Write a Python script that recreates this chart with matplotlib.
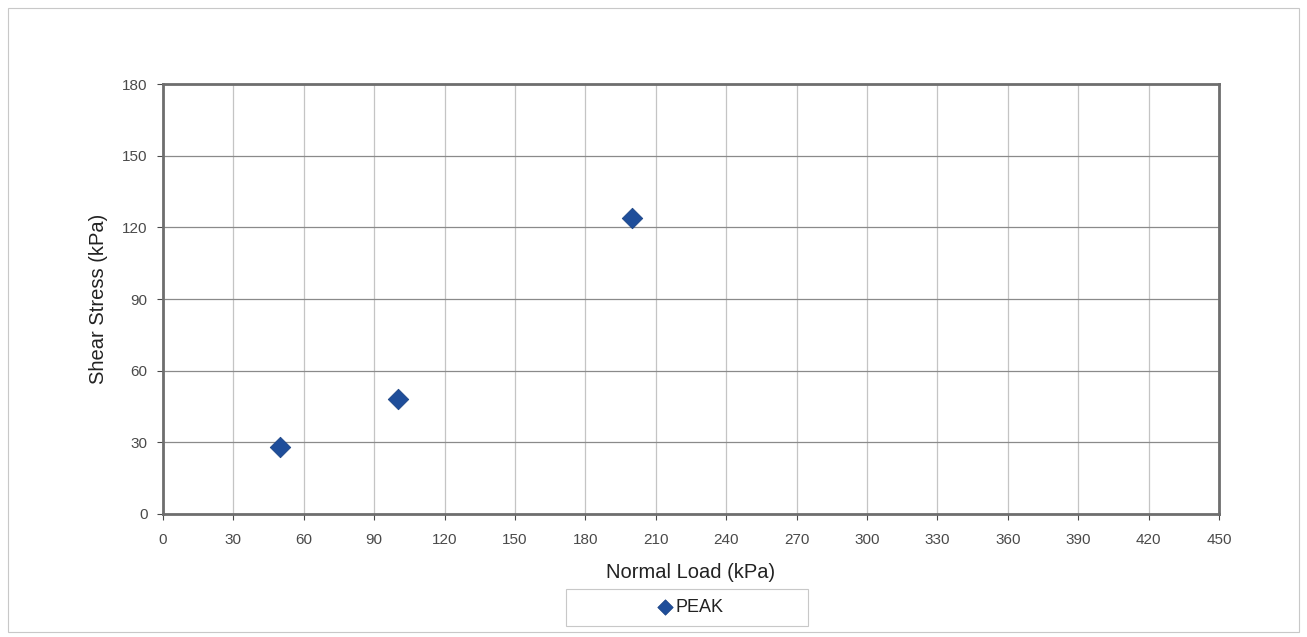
import matplotlib
matplotlib.use("Agg")
import matplotlib.pyplot as plt
from matplotlib.patches import Rectangle

plt.rcParams['font.family'] = ['Liberation Sans', 'DejaVu Sans']

# peak shear test results
normal_load = [50, 100, 200]
shear_stress = [28, 48, 124]

x_ticks = list(range(0, 451, 30))
y_ticks = list(range(0, 181, 30))

W, H = 1307, 637
fig = plt.figure(figsize=(W / 100, H / 100), dpi=100)
fig.patches.append(Rectangle((0.006, 0.008), 0.988, 0.98, transform=fig.transFigure,
                             fill=False, edgecolor='#c8c8c8', lw=0.8))
# legend box
fig.patches.append(Rectangle((566 / W, 1 - 626 / H), 242 / W, 37 / H,
                             transform=fig.transFigure, fill=False,
                             edgecolor='#c8c8c8', lw=0.8))

ax = fig.add_axes([0.1247, 0.1931, 0.808, 0.675])
ax.scatter(normal_load, shear_stress, marker='D', s=110, color='#1f4e9a',
           edgecolors='#173f80', linewidths=0.5, zorder=3, label='PEAK')

ax.set_xlim(0, 450)
ax.set_ylim(0, 180)
ax.set_xticks(x_ticks)
ax.set_yticks(y_ticks)
ax.tick_params(labelsize=11, colors='#4a4a4a', length=4, width=0.8)
ax.tick_params(axis='x', pad=10)
ax.tick_params(axis='y', pad=7)

ax.yaxis.grid(True, color='#8a8a8a', lw=0.9)
ax.xaxis.grid(True, color='#c4c4c4', lw=0.9)
ax.set_axisbelow(True)
for sp in ax.spines.values():
    sp.set_color('#6e6e6e')
    sp.set_linewidth(2)

ax.set_xlabel('Normal Load (kPa)', fontsize=14.5, color='#222222', labelpad=11)
ax.set_ylabel('Shear Stress (kPa)', fontsize=14.5, color='#222222', labelpad=10)

leg = ax.legend(loc='center', bbox_to_anchor=(690 / W, 1 - 607 / H),
                bbox_transform=fig.transFigure, frameon=False,
                fontsize=13, handletextpad=0.1, handlelength=1.0, markerscale=0.75)
for t in leg.get_texts():
    t.set_color('#222222')

fig.savefig('out.png', dpi=100)
